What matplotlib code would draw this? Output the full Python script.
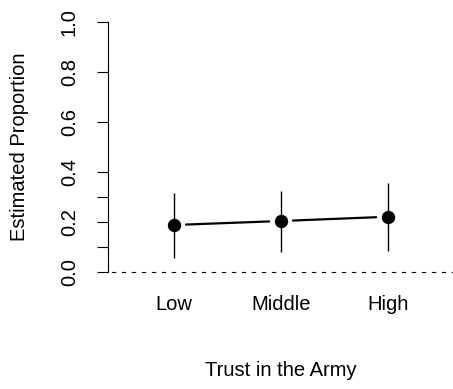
import matplotlib
matplotlib.use("Agg")
import matplotlib.pyplot as plt

categories = ["Low", "Middle", "High"]
estimate = [0.188, 0.204, 0.221]
lower = [0.055, 0.080, 0.085]
upper = [0.317, 0.325, 0.355]
ytick_vals = [0.0, 0.1, 0.2, 0.3, 0.4, 0.6, 0.8, 1.0]
ytick_labels = ["0.0", "", "0.2", "", "0.4", "0.6", "0.8", "1.0"]

plt.rcParams['font.family'] = ['Liberation Sans', 'DejaVu Sans']
fs = 14.5

fig = plt.figure(figsize=(4.53, 3.89), dpi=100)
ax = fig.add_axes([108 / 453, 1 - 282 / 389, 1 - 108 / 453, 270 / 389])

x = list(range(1, len(categories) + 1))

# confidence intervals
ax.vlines(x, lower, upper, color='black', lw=1.0)

# connecting line with gaps around the points (like R type="b")
for i in range(len(x) - 1):
    ax.annotate('', xy=(x[i + 1], estimate[i + 1]), xytext=(x[i], estimate[i]),
                arrowprops=dict(arrowstyle='-', color='black', lw=1.6,
                                shrinkA=8.6, shrinkB=8.6))

ax.plot(x, estimate, 'o', color='black', markersize=8.6, zorder=3)

ax.axhline(0, color='black', lw=0.8, ls=(6, (3.9, 5.1)))

ax.set_xlim(0.383, 3.607)
ax.set_ylim(-0.04, 1.04)

for s in ['top', 'right', 'bottom']:
    ax.spines[s].set_visible(False)
ax.spines['left'].set_bounds(0, 1)
ax.spines['left'].set_linewidth(0.8)

ax.set_yticks(ytick_vals)
ax.set_yticklabels(ytick_labels, rotation=90, va='center', fontsize=fs)
ax.tick_params(axis='y', length=7.9, width=0.8, pad=13)

ax.set_xticks(x)
ax.set_xticklabels(categories, fontsize=fs)
ax.tick_params(axis='x', length=0, pad=9)

fig.text(281 / 453, 1 - 370 / 389, "Trust in the Army", ha='center', va='center', fontsize=fs)
fig.text(20 / 453, 1 - 147 / 389, "Estimated Proportion", ha='center', va='center',
         rotation=90, fontsize=fs)

fig.savefig("out.png", dpi=100)
